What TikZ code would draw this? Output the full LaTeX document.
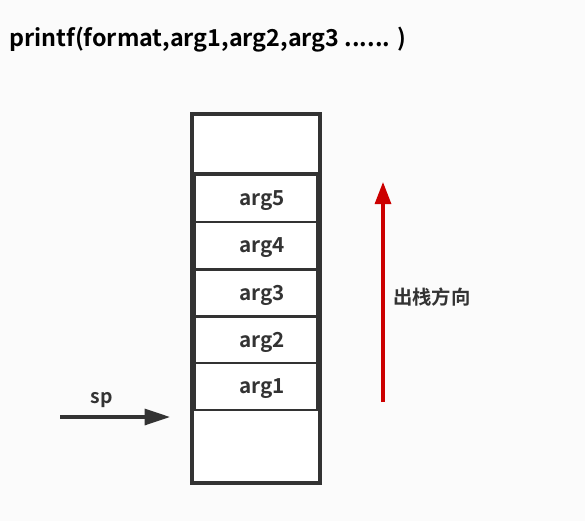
\documentclass[tikz,border=0pt]{standalone}
\usepackage{fontspec}
\setmainfont{Noto Sans CJK SC}[BoldFont={* Bold}]
\usetikzlibrary{arrows.meta}
\definecolor{bg}{HTML}{FBFBFB}
\definecolor{ink}{HTML}{333333}
\definecolor{redarr}{HTML}{CC0000}
\tikzset{
  box/.style={draw=ink,line width=2.3pt,fill=white},
  cell/.style={draw=ink,line width=2.1pt,fill=white,minimum width=122*0.75pt,minimum height=47*0.75pt,inner sep=0pt},
  celltext/.style={font=\bfseries\fontsize{15.5}{18}\selectfont,text=ink,inner sep=0pt,xshift=4.5pt,yshift=-1.5pt},
  lbl/.style={font=\bfseries\fontsize{14.5}{17}\selectfont,text=ink,inner sep=0pt},
}
\begin{document}
\begin{tikzpicture}[x=0.75pt,y=-0.75pt]
\fill[bg] (0,0) rectangle (585,521);
\useasboundingbox (0,0) rectangle (585,521);
\node[anchor=west,inner sep=0pt,font=\bfseries\fontsize{17.5}{20}\selectfont] (title) at (9,40) {printf(format,arg1,arg2,arg3 ...... )};
\draw[box] (192,114) rectangle (320,483);
\draw[draw=ink,line width=2.3pt] (192,174) -- (320,174);
\node[cell,label={[celltext]center:arg5}] (a5) at (256,198.5) {};
\node[cell,label={[celltext]center:arg4}] (a4) at (256,245.5) {};
\node[cell,label={[celltext]center:arg3}] (a3) at (256,293) {};
\node[cell,label={[celltext]center:arg2}] (a2) at (256,340) {};
\node[cell,label={[celltext]center:arg1}] (a1) at (256,386.5) {};
\coordinate (spstart) at (60,417);
\coordinate (spend) at (170,417);
\draw[draw=ink,line width=2.3pt,-{Triangle[length=19pt,width=12pt]}] (spstart) -- (spend);
\node[lbl] (sp) at (102,400) {sp};
\coordinate (rbot) at (383,402);
\coordinate (rtop) at (383,182);
\draw[draw=redarr,line width=2.3pt,-{Triangle[length=16.5pt,width=12pt]}] (rbot) -- (rtop);
\node[lbl,anchor=west] (dir) at (393,297) {出栈方向};
\end{tikzpicture}
\end{document}
